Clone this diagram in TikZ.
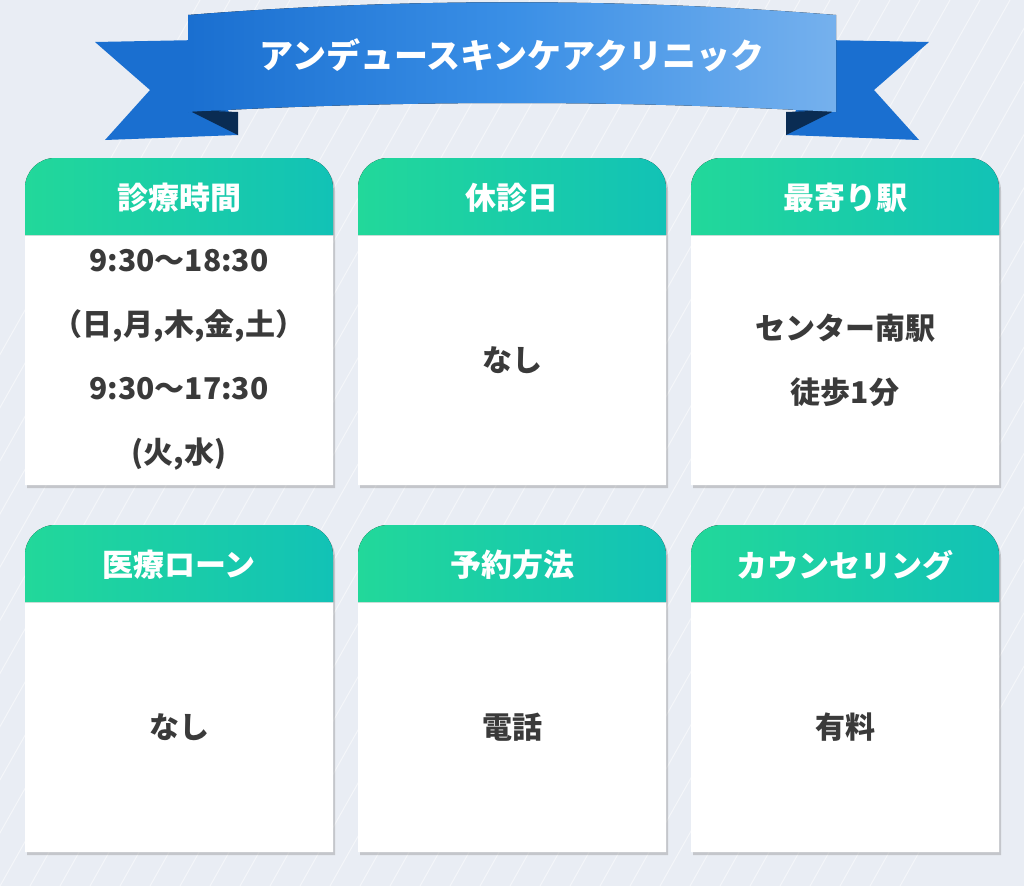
\documentclass[tikz,border=0pt]{standalone}
\usepackage{fontspec}
\setmainfont{Noto Sans CJK JP}
\usetikzlibrary{positioning,shadows}
\definecolor{bgc}{HTML}{E9EDF4}
\definecolor{hdl}{HTML}{22D89A}
\definecolor{hdr}{HTML}{12C2B6}
\definecolor{rbl}{HTML}{3A8FE6}
\definecolor{rbd}{HTML}{1A6FD0}
\definecolor{txt}{HTML}{3A3A3A}
\tikzset{
  cardbody/.style={fill=white, drop shadow={shadow xshift=2pt, shadow yshift=-3pt, opacity=.35}},
  head/.style={text=white, font=\fontsize{31}{36}\selectfont\bfseries},
  body/.style={text=txt, font=\fontsize{30}{64}\selectfont\bfseries, align=center}
}
% card: x, y, name, title, body
\newcommand\infocard[5]{
  \path[cardbody] (#1,#2+77) [rounded corners=30pt] -- (#1,#2) -- (#1+308,#2) [sharp corners] -- (#1+308,#2+327) -- (#1,#2+327) -- cycle;
  \fill[left color=hdl, right color=hdr] (#1,#2+77) [rounded corners=30pt] -- (#1,#2) -- (#1+308,#2) [sharp corners] -- (#1+308,#2+77) -- cycle;
  \node[head] (#3h) at (#1+154,#2+40) {#4};
  \node[body] (#3b) at (#1+154,#2+202) {#5};
}
\begin{document}
\begin{tikzpicture}[x=1pt, y=-1pt]
  \useasboundingbox (0,0) rectangle (1024,886);
  % background
  \begin{scope}
    \clip (0,0) rectangle (1024,886);
    \fill[bgc] (0,0) rectangle (1024,886);
    \foreach \i in {0,30,...,1200}
      \draw[white, opacity=.5, line width=1pt] (\i-300,886) -- (\i+200,0);
  \end{scope}
  % ribbon
  \fill[rbd] (95,42) -- (200,40) -- (238,135) -- (105,140) -- (150,90) -- cycle;
  \fill[rbd] (929,42) -- (824,40) -- (786,135) -- (919,140) -- (874,90) -- cycle;
  \fill[black!60!rbd] (188,110) -- (238,135) -- (238,112) -- cycle;
  \fill[black!60!rbd] (836,110) -- (786,135) -- (786,112) -- cycle;
  \fill[left color=rbd, right color=rbl!70!white, middle color=rbl] (188,15) .. controls (400,-2) and (624,-2) .. (836,15) -- (836,112) .. controls (624,100) and (400,100) .. (188,112) -- cycle;
  \node[text=white, font=\fontsize{34}{40}\selectfont\bfseries] (title) at (512,55) {アンデュースキンケアクリニック};
  % cards
  \infocard{25}{158}{hours}{診療時間}{9:30～18:30\\（日,月,木,金,土）\\9:30～17:30\\(火,水)}
  \infocard{358}{158}{holiday}{休診日}{なし}
  \infocard{691}{158}{station}{最寄り駅}{センター南駅\\徒歩1分}
  \infocard{25}{525}{loan}{医療ローン}{なし}
  \infocard{358}{525}{reserve}{予約方法}{電話}
  \infocard{691}{525}{counsel}{カウンセリング}{有料}
\end{tikzpicture}
\end{document}
